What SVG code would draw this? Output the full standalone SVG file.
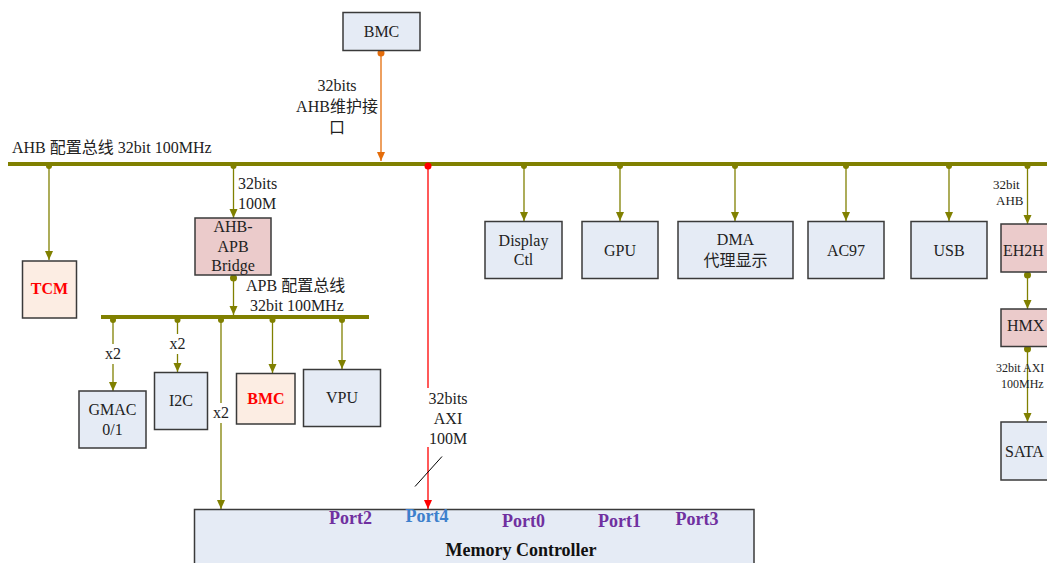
<svg xmlns="http://www.w3.org/2000/svg" width="1047" height="563" viewBox="0 0 1047 563">
<defs>
<style>
.box{stroke:#3a3a3a;stroke-width:1.5}
.blue{fill:#e5ebf5}
.pink{fill:#ebcbcb}
.peach{fill:#fcede3}
.t{font-family:"Liberation Serif","Noto Sans CJK SC",serif;font-size:16px;fill:#222;text-anchor:middle}
.tl{font-family:"Liberation Serif","Noto Sans CJK SC",serif;font-size:16px;fill:#222}
.sm{font-family:"Liberation Serif","Noto Sans CJK SC",serif;font-size:13px;fill:#222}
.red{font-weight:bold;fill:#ff0000}
.bus{stroke:#808000;stroke-width:4}
.c{stroke:#808000;stroke-width:1.3;fill:none}
.dot{fill:#808000}
.port{font-family:"Liberation Serif",serif;font-size:18px;font-weight:bold;fill:#7030a0;text-anchor:middle}
</style>
<marker id="ao" markerWidth="10" markerHeight="10" refX="9" refY="5" orient="auto" markerUnits="userSpaceOnUse"><path d="M0,1 L9,5 L0,9 z" fill="#808000"/></marker>
<marker id="aor" markerWidth="10" markerHeight="10" refX="9" refY="5" orient="auto" markerUnits="userSpaceOnUse"><path d="M0,1 L9,5 L0,9 z" fill="#e46c0a"/></marker>
<marker id="ar" markerWidth="10" markerHeight="10" refX="9" refY="5" orient="auto" markerUnits="userSpaceOnUse"><path d="M0,1 L9,5 L0,9 z" fill="#ff0000"/></marker>
</defs>
<rect width="1047" height="563" fill="#fff"/>

<g id="buses">
<line class="bus" x1="8" y1="164" x2="1047" y2="164"/>
<text class="tl" x="12" y="153">AHB 配置总线 32bit 100MHz</text>
<line class="bus" x1="101" y1="317" x2="369" y2="317"/>
<text class="tl" x="246" y="291">APB 配置总线</text>
<text class="tl" x="250" y="311">32bit 100MHz</text>
</g>

<g id="connectors">
<line x1="381" y1="53" x2="381" y2="161" stroke="#e46c0a" stroke-width="1.3" marker-end="url(#aor)"/>
<circle cx="381" cy="53" r="3.5" fill="#e46c0a"/>
<text class="t" x="337" y="91">32bits</text>
<text class="t" x="337" y="112">AHB维护接</text>
<text class="t" x="337" y="133">口</text>

<line class="c" x1="49" y1="166" x2="49" y2="260" marker-end="url(#ao)"/>
<circle class="dot" cx="49" cy="166" r="3"/>
<line class="c" x1="233.5" y1="166" x2="233.5" y2="218" marker-end="url(#ao)"/>
<circle class="dot" cx="233.5" cy="166" r="3"/>
<text class="tl" x="238" y="189">32bits</text>
<text class="tl" x="238" y="209">100M</text>
<line class="c" x1="233.5" y1="278" x2="233.5" y2="315" marker-end="url(#ao)"/>
<circle class="dot" cx="233.5" cy="278" r="3.5"/>

<line class="c" x1="113" y1="319" x2="113" y2="391" marker-end="url(#ao)"/>
<circle class="dot" cx="113" cy="320" r="3"/>
<rect x="104" y="344" width="18" height="20" fill="#fff"/>
<text class="t" x="113" y="359">x2</text>

<line class="c" x1="177.5" y1="319" x2="177.5" y2="372" marker-end="url(#ao)"/>
<circle class="dot" cx="177.5" cy="320" r="3"/>
<rect x="168" y="334" width="19" height="20" fill="#fff"/>
<text class="t" x="177.5" y="349">x2</text>

<line class="c" x1="221" y1="319" x2="221" y2="509" marker-end="url(#ao)"/>
<circle class="dot" cx="221" cy="320" r="3"/>
<rect x="212" y="403" width="19" height="20" fill="#fff"/>
<text class="t" x="221" y="418">x2</text>

<line class="c" x1="272.5" y1="319" x2="272.5" y2="373" marker-end="url(#ao)"/>
<circle class="dot" cx="272.5" cy="320" r="3"/>
<line class="c" x1="342" y1="319" x2="342" y2="369" marker-end="url(#ao)"/>
<circle class="dot" cx="342" cy="320" r="3"/>

<line x1="428" y1="166" x2="428" y2="509" stroke="#ff0000" stroke-width="1.3" marker-end="url(#ar)"/>
<circle cx="428" cy="166" r="3.5" fill="#ff0000"/>
<rect x="426" y="388" width="44" height="59" fill="#fff"/>
<text class="t" x="448" y="404">32bits</text>
<text class="t" x="448" y="424">AXI</text>
<text class="t" x="448" y="444">100M</text>
<line x1="415" y1="486.5" x2="442" y2="456.5" stroke="#000" stroke-width="1"/>

<line class="c" x1="524" y1="166" x2="524" y2="221" marker-end="url(#ao)"/>
<circle class="dot" cx="524" cy="166" r="3"/>
<line class="c" x1="620" y1="166" x2="620" y2="221" marker-end="url(#ao)"/>
<circle class="dot" cx="620" cy="166" r="3"/>
<line class="c" x1="735" y1="166" x2="735" y2="221" marker-end="url(#ao)"/>
<circle class="dot" cx="735" cy="166" r="3"/>
<line class="c" x1="846" y1="166" x2="846" y2="221" marker-end="url(#ao)"/>
<circle class="dot" cx="846" cy="166" r="3"/>
<line class="c" x1="949" y1="166" x2="949" y2="221" marker-end="url(#ao)"/>
<circle class="dot" cx="949" cy="166" r="3"/>
<line class="c" x1="1027.5" y1="166" x2="1027.5" y2="224" marker-end="url(#ao)"/>
<circle class="dot" cx="1027.5" cy="166" r="3"/>
<text class="sm" x="993" y="189">32bit</text>
<text class="sm" x="996" y="205">AHB</text>

<line class="c" x1="1027.5" y1="275" x2="1027.5" y2="309" marker-end="url(#ao)"/>
<circle class="dot" cx="1027.5" cy="275" r="3.5"/>
<line class="c" x1="1027.5" y1="349" x2="1027.5" y2="422" marker-end="url(#ao)"/>
<circle class="dot" cx="1027.5" cy="349" r="3.5"/>
<text class="sm" x="996" y="372" style="font-size:12px">32bit AXI</text>
<text class="sm" x="1001" y="388" style="font-size:12px">100MHz</text>
</g>

<g id="bmc-top"><rect class="box blue" x="343" y="12.5" width="77" height="38"/><text class="t" x="381.5" y="37">BMC</text></g>
<g id="tcm"><rect class="box peach" x="22.5" y="261" width="54" height="57"/><text class="t red" x="49.5" y="294">TCM</text></g>
<g id="bridge"><rect class="box pink" x="195" y="218" width="76" height="57"/><text class="t" x="233" y="232">AHB-</text><text class="t" x="233" y="252">APB</text><text class="t" x="233" y="271">Bridge</text></g>
<g id="gmac"><rect class="box blue" x="79" y="391" width="67" height="57"/><text class="t" x="112.5" y="415">GMAC</text><text class="t" x="112.5" y="435">0/1</text></g>
<g id="i2c"><rect class="box blue" x="154.5" y="372.5" width="53" height="57"/><text class="t" x="181" y="406">I2C</text></g>
<g id="bmc-apb"><rect class="box peach" x="236.5" y="373.5" width="58.5" height="50.5"/><text class="t red" x="266" y="404">BMC</text></g>
<g id="vpu"><rect class="box blue" x="303.5" y="369.5" width="77" height="57"/><text class="t" x="342" y="403">VPU</text></g>
<g id="display"><rect class="box blue" x="485" y="221.5" width="77" height="57"/><text class="t" x="523.5" y="246">Display</text><text class="t" x="523.5" y="265">Ctl</text></g>
<g id="gpu"><rect class="box blue" x="582" y="221.5" width="76" height="57"/><text class="t" x="620" y="256">GPU</text></g>
<g id="dma"><rect class="box blue" x="678" y="221.5" width="115" height="57"/><text class="t" x="735.5" y="245">DMA</text><text class="t" x="735.5" y="266">代理显示</text></g>
<g id="ac97"><rect class="box blue" x="808" y="221.5" width="76" height="57"/><text class="t" x="846" y="256">AC97</text></g>
<g id="usb"><rect class="box blue" x="911" y="221.5" width="76" height="57"/><text class="t" x="949" y="256">USB</text></g>
<g id="eh2h"><rect class="box pink" x="1001" y="224" width="60" height="48"/><text class="tl" x="1003" y="256">EH2H</text></g>
<g id="hmx"><rect class="box pink" x="1001" y="309" width="60" height="37.5"/><text class="tl" x="1007" y="331">HMX</text></g>
<g id="sata"><rect class="box blue" x="1001" y="422" width="60" height="58"/><text class="tl" x="1005" y="457">SATA</text></g>

<g id="memctl">
<rect class="box blue" x="194.5" y="509.5" width="559.5" height="70"/>
<text class="port" x="350.5" y="524">Port2</text>
<text class="port" x="427" y="522" style="fill:#3d80cc">Port4</text>
<text class="port" x="523.5" y="527">Port0</text>
<text class="port" x="619.5" y="527">Port1</text>
<text class="port" x="697" y="525">Port3</text>
<text class="port" x="521" y="556" style="fill:#111">Memory Controller</text>
</g>
</svg>
